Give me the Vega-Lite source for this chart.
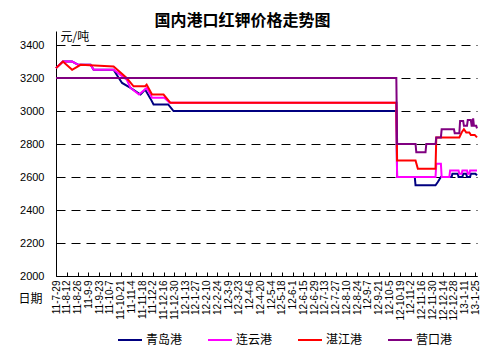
{
  "$schema": "https://vega.github.io/schema/vega-lite/v6.json",
  "width": 421,
  "height": 245,
  "autosize": {"type": "none"},
  "padding": {"left": 56, "top": 31, "right": 25, "bottom": 84},
  "background": "white",
  "config": {"view": {"stroke": null}},
  "title": {"text": "国内港口红钾价格走势图", "font": "Noto Sans CJK SC", "fontSize": 16, "fontWeight": "bold", "color": "black", "anchor": "middle", "dx": -24, "dy": 18, "offset": 3, "baseline": "bottom"},
  "data": {"values": [
    {"port": "青岛港", "date": "2011-07-29", "price": 3260},
    {"port": "青岛港", "date": "2011-08-07", "price": 3300},
    {"port": "青岛港", "date": "2011-08-19", "price": 3300},
    {"port": "青岛港", "date": "2011-08-27", "price": 3280},
    {"port": "青岛港", "date": "2011-09-12", "price": 3280},
    {"port": "青岛港", "date": "2011-09-16", "price": 3250},
    {"port": "青岛港", "date": "2011-10-12", "price": 3250},
    {"port": "青岛港", "date": "2011-10-16", "price": 3220},
    {"port": "青岛港", "date": "2011-10-23", "price": 3170},
    {"port": "青岛港", "date": "2011-11-03", "price": 3140},
    {"port": "青岛港", "date": "2011-11-16", "price": 3100},
    {"port": "青岛港", "date": "2011-11-22", "price": 3130},
    {"port": "青岛港", "date": "2011-11-29", "price": 3075},
    {"port": "青岛港", "date": "2011-12-03", "price": 3040},
    {"port": "青岛港", "date": "2011-12-22", "price": 3040},
    {"port": "青岛港", "date": "2011-12-29", "price": 3000},
    {"port": "青岛港", "date": "2012-10-14", "price": 3000},
    {"port": "青岛港", "date": "2012-10-15", "price": 2600},
    {"port": "青岛港", "date": "2012-11-07", "price": 2600},
    {"port": "青岛港", "date": "2012-11-08", "price": 2550},
    {"port": "青岛港", "date": "2012-12-04", "price": 2550},
    {"port": "青岛港", "date": "2012-12-07", "price": 2570},
    {"port": "青岛港", "date": "2012-12-11", "price": 2600},
    {"port": "青岛港", "date": "2012-12-25", "price": 2600},
    {"port": "青岛港", "date": "2012-12-26", "price": 2620},
    {"port": "青岛港", "date": "2013-01-02", "price": 2620},
    {"port": "青岛港", "date": "2013-01-03", "price": 2600},
    {"port": "青岛港", "date": "2013-01-08", "price": 2600},
    {"port": "青岛港", "date": "2013-01-09", "price": 2620},
    {"port": "青岛港", "date": "2013-01-13", "price": 2620},
    {"port": "青岛港", "date": "2013-01-14", "price": 2600},
    {"port": "青岛港", "date": "2013-01-18", "price": 2600},
    {"port": "青岛港", "date": "2013-01-19", "price": 2620},
    {"port": "青岛港", "date": "2013-01-25", "price": 2620},
    {"port": "青岛港", "date": "2013-01-27", "price": 2610},

    {"port": "连云港", "date": "2011-07-29", "price": 3260},
    {"port": "连云港", "date": "2011-08-07", "price": 3300},
    {"port": "连云港", "date": "2011-08-19", "price": 3300},
    {"port": "连云港", "date": "2011-08-27", "price": 3280},
    {"port": "连云港", "date": "2011-09-12", "price": 3280},
    {"port": "连云港", "date": "2011-09-16", "price": 3250},
    {"port": "连云港", "date": "2011-10-12", "price": 3250},
    {"port": "连云港", "date": "2011-10-29", "price": 3190},
    {"port": "连云港", "date": "2011-11-03", "price": 3140},
    {"port": "连云港", "date": "2011-11-14", "price": 3100},
    {"port": "连云港", "date": "2011-11-24", "price": 3140},
    {"port": "连云港", "date": "2011-11-29", "price": 3100},
    {"port": "连云港", "date": "2011-12-01", "price": 3080},
    {"port": "连云港", "date": "2011-12-17", "price": 3080},
    {"port": "连云港", "date": "2011-12-24", "price": 3050},
    {"port": "连云港", "date": "2012-10-14", "price": 3050},
    {"port": "连云港", "date": "2012-10-15", "price": 2600},
    {"port": "连云港", "date": "2012-12-04", "price": 2600},
    {"port": "连云港", "date": "2012-12-05", "price": 2680},
    {"port": "连云港", "date": "2012-12-11", "price": 2680},
    {"port": "连云港", "date": "2012-12-12", "price": 2600},
    {"port": "连云港", "date": "2012-12-22", "price": 2600},
    {"port": "连云港", "date": "2012-12-23", "price": 2640},
    {"port": "连云港", "date": "2013-01-03", "price": 2640},
    {"port": "连云港", "date": "2013-01-04", "price": 2620},
    {"port": "连云港", "date": "2013-01-07", "price": 2620},
    {"port": "连云港", "date": "2013-01-08", "price": 2640},
    {"port": "连云港", "date": "2013-01-14", "price": 2640},
    {"port": "连云港", "date": "2013-01-15", "price": 2620},
    {"port": "连云港", "date": "2013-01-17", "price": 2620},
    {"port": "连云港", "date": "2013-01-18", "price": 2640},
    {"port": "连云港", "date": "2013-01-27", "price": 2640},

    {"port": "湛江港", "date": "2011-07-29", "price": 3260},
    {"port": "湛江港", "date": "2011-08-07", "price": 3300},
    {"port": "湛江港", "date": "2011-08-19", "price": 3250},
    {"port": "湛江港", "date": "2011-08-30", "price": 3280},
    {"port": "湛江港", "date": "2011-10-12", "price": 3270},
    {"port": "湛江港", "date": "2011-10-29", "price": 3200},
    {"port": "湛江港", "date": "2011-11-07", "price": 3150},
    {"port": "湛江港", "date": "2011-11-22", "price": 3150},
    {"port": "湛江港", "date": "2011-11-24", "price": 3160},
    {"port": "湛江港", "date": "2011-12-01", "price": 3100},
    {"port": "湛江港", "date": "2011-12-16", "price": 3100},
    {"port": "湛江港", "date": "2011-12-25", "price": 3050},
    {"port": "湛江港", "date": "2012-10-14", "price": 3050},
    {"port": "湛江港", "date": "2012-10-15", "price": 2700},
    {"port": "湛江港", "date": "2012-11-08", "price": 2700},
    {"port": "湛江港", "date": "2012-11-11", "price": 2650},
    {"port": "湛江港", "date": "2012-12-04", "price": 2650},
    {"port": "湛江港", "date": "2012-12-05", "price": 2840},
    {"port": "湛江港", "date": "2013-01-04", "price": 2840},
    {"port": "湛江港", "date": "2013-01-07", "price": 2870},
    {"port": "湛江港", "date": "2013-01-10", "price": 2890},
    {"port": "湛江港", "date": "2013-01-13", "price": 2870},
    {"port": "湛江港", "date": "2013-01-17", "price": 2870},
    {"port": "湛江港", "date": "2013-01-19", "price": 2855},
    {"port": "湛江港", "date": "2013-01-24", "price": 2855},
    {"port": "湛江港", "date": "2013-01-27", "price": 2840},

    {"port": "营口港", "date": "2011-07-29", "price": 3200},
    {"port": "营口港", "date": "2012-10-14", "price": 3200},
    {"port": "营口港", "date": "2012-10-15", "price": 2800},
    {"port": "营口港", "date": "2012-11-08", "price": 2800},
    {"port": "营口港", "date": "2012-11-09", "price": 2750},
    {"port": "营口港", "date": "2012-11-21", "price": 2750},
    {"port": "营口港", "date": "2012-11-22", "price": 2800},
    {"port": "营口港", "date": "2012-12-04", "price": 2800},
    {"port": "营口港", "date": "2012-12-05", "price": 2840},
    {"port": "营口港", "date": "2012-12-11", "price": 2840},
    {"port": "营口港", "date": "2012-12-12", "price": 2890},
    {"port": "营口港", "date": "2012-12-28", "price": 2890},
    {"port": "营口港", "date": "2012-12-29", "price": 2865},
    {"port": "营口港", "date": "2013-01-04", "price": 2865},
    {"port": "营口港", "date": "2013-01-05", "price": 2940},
    {"port": "营口港", "date": "2013-01-09", "price": 2940},
    {"port": "营口港", "date": "2013-01-10", "price": 2910},
    {"port": "营口港", "date": "2013-01-14", "price": 2910},
    {"port": "营口港", "date": "2013-01-15", "price": 2945},
    {"port": "营口港", "date": "2013-01-19", "price": 2945},
    {"port": "营口港", "date": "2013-01-20", "price": 2910},
    {"port": "营口港", "date": "2013-01-21", "price": 2910},
    {"port": "营口港", "date": "2013-01-22", "price": 2955},
    {"port": "营口港", "date": "2013-01-23", "price": 2910},
    {"port": "营口港", "date": "2013-01-26", "price": 2910},
    {"port": "营口港", "date": "2013-01-27", "price": 2895}
  ]},
  "mark": {"type": "line", "strokeWidth": 2, "interpolate": "linear"},
  "encoding": {
    "x": {
      "field": "date", "type": "temporal",
      "scale": {"type": "utc", "domain": [{"year": 2011, "month": 7, "date": 29, "utc": true}, {"year": 2013, "month": 1, "date": 27, "utc": true}]},
      "axis": {
        "values": [
          {"year": 2011, "month": 7, "date": 29, "utc": true},
          {"year": 2011, "month": 8, "date": 12, "utc": true},
          {"year": 2011, "month": 8, "date": 26, "utc": true},
          {"year": 2011, "month": 9, "date": 9, "utc": true},
          {"year": 2011, "month": 9, "date": 23, "utc": true},
          {"year": 2011, "month": 10, "date": 7, "utc": true},
          {"year": 2011, "month": 10, "date": 21, "utc": true},
          {"year": 2011, "month": 11, "date": 4, "utc": true},
          {"year": 2011, "month": 11, "date": 18, "utc": true},
          {"year": 2011, "month": 12, "date": 2, "utc": true},
          {"year": 2011, "month": 12, "date": 16, "utc": true},
          {"year": 2011, "month": 12, "date": 30, "utc": true},
          {"year": 2012, "month": 1, "date": 13, "utc": true},
          {"year": 2012, "month": 1, "date": 27, "utc": true},
          {"year": 2012, "month": 2, "date": 10, "utc": true},
          {"year": 2012, "month": 2, "date": 24, "utc": true},
          {"year": 2012, "month": 3, "date": 9, "utc": true},
          {"year": 2012, "month": 3, "date": 23, "utc": true},
          {"year": 2012, "month": 4, "date": 6, "utc": true},
          {"year": 2012, "month": 4, "date": 20, "utc": true},
          {"year": 2012, "month": 5, "date": 4, "utc": true},
          {"year": 2012, "month": 5, "date": 18, "utc": true},
          {"year": 2012, "month": 6, "date": 1, "utc": true},
          {"year": 2012, "month": 6, "date": 15, "utc": true},
          {"year": 2012, "month": 6, "date": 29, "utc": true},
          {"year": 2012, "month": 7, "date": 13, "utc": true},
          {"year": 2012, "month": 7, "date": 27, "utc": true},
          {"year": 2012, "month": 8, "date": 10, "utc": true},
          {"year": 2012, "month": 8, "date": 24, "utc": true},
          {"year": 2012, "month": 9, "date": 7, "utc": true},
          {"year": 2012, "month": 9, "date": 21, "utc": true},
          {"year": 2012, "month": 10, "date": 5, "utc": true},
          {"year": 2012, "month": 10, "date": 19, "utc": true},
          {"year": 2012, "month": 11, "date": 2, "utc": true},
          {"year": 2012, "month": 11, "date": 16, "utc": true},
          {"year": 2012, "month": 11, "date": 30, "utc": true},
          {"year": 2012, "month": 12, "date": 14, "utc": true},
          {"year": 2012, "month": 12, "date": 28, "utc": true},
          {"year": 2013, "month": 1, "date": 11, "utc": true},
          {"year": 2013, "month": 1, "date": 25, "utc": true}
        ],
        "labelExpr": "utcFormat(datum.value, '%y-%-m-%-d')",
        "labelAngle": -90,
        "labelAlign": "right",
        "labelBaseline": "middle",
        "labelFont": "Liberation Sans",
        "labelFontSize": 10,
        "labelColor": "black",
        "labelPadding": 8,
        "labelOverlap": false,
        "labelFlush": false,
        "tickColor": "black",
        "tickSize": -4,
        "domainColor": "black",
        "grid": false,
        "title": "日期",
        "titleAngle": 0,
        "titleX": -38,
        "titleY": 22,
        "titleAlign": "left",
        "titleBaseline": "middle",
        "titleFont": "Noto Sans CJK SC",
        "titleFontSize": 12,
        "titleFontWeight": "normal",
        "titleColor": "black"
      }
    },
    "y": {
      "field": "price", "type": "quantitative",
      "scale": {"domain": [2000, 3485], "nice": false, "zero": false},
      "axis": {
        "values": [2000, 2200, 2400, 2600, 2800, 3000, 3200, 3400],
        "format": "d",
        "grid": true,
        "gridDash": [9, 6],
        "gridColor": "black",
        "gridOpacity": 1,
        "gridWidth": 1,
        "ticks": false,
        "labelPadding": 12,
        "labelFont": "Liberation Sans",
        "labelFontSize": 11,
        "labelColor": "black",
        "domainColor": "black",
        "title": "元/吨",
        "titleAngle": 0,
        "titleX": 4,
        "titleY": 5,
        "titleAlign": "left",
        "titleBaseline": "middle",
        "titleFont": "Noto Sans CJK SC",
        "titleFontSize": 12,
        "titleFontWeight": "normal",
        "titleColor": "black"
      }
    },
    "color": {
      "field": "port", "type": "nominal",
      "scale": {"domain": ["青岛港", "连云港", "湛江港", "营口港"], "range": ["#000080", "#FF00FF", "#FF0000", "#800080"]},
      "legend": {
        "orient": "none",
        "legendX": 61,
        "legendY": 296,
        "direction": "horizontal",
        "title": null,
        "symbolType": "stroke",
        "symbolSize": 576,
        "symbolStrokeWidth": 2,
        "labelFont": "Noto Sans CJK SC",
        "labelFontSize": 12,
        "labelColor": "black",
        "labelOffset": 3,
        "columnPadding": 21
      }
    }
  }
}
